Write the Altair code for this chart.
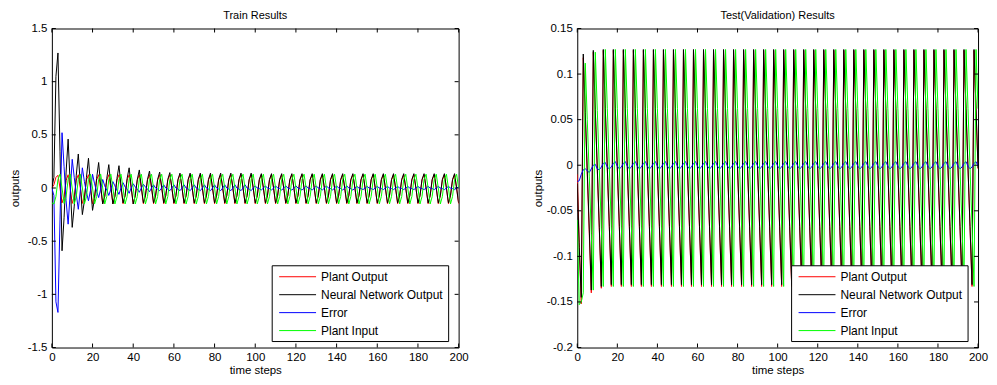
import altair as alt
import pandas as pd

STEPS = list(range(201))
SERIES = ["Plant Output", "Neural Network Output", "Error", "Plant Input"]
COLORS = ["#ff0000", "#000000", "#0000ff", "#00ff00"]
X_TICKS = [0, 20, 40, 60, 80, 100, 120, 140, 160, 180, 200]
TRAIN_Y_TICKS = [-1.5, -1, -0.5, 0, 0.5, 1, 1.5]
TEST_Y_TICKS = [-0.2, -0.15, -0.1, -0.05, 0, 0.05, 0.1, 0.15]

# ---------------- Train results (steps 0..200) ----------------
TRAIN_PLANT_OUTPUT = [
    0.00, 0.03, 0.10, 0.12, 0.00, -0.14, -0.08, 0.07, 0.125, 0.00,
    -0.145, -0.075, 0.075, 0.125, 0.00, -0.145, -0.075, 0.075, 0.125, 0.00,
    -0.148, -0.075, 0.075, 0.125, 0.00, -0.148, -0.075, 0.075, 0.125, 0.00,
    -0.148, -0.075, 0.075, 0.125, 0.00, -0.148, -0.075, 0.075, 0.125, 0.00,
    -0.148, -0.075, 0.075, 0.125, 0.00, -0.148, -0.075, 0.075, 0.125, 0.00,
    -0.148, -0.075, 0.075, 0.125, 0.00, -0.148, -0.075, 0.075, 0.125, 0.00,
    -0.148, -0.075, 0.075, 0.125, 0.00, -0.148, -0.075, 0.075, 0.125, 0.00,
    -0.148, -0.075, 0.075, 0.125, 0.00, -0.148, -0.075, 0.075, 0.125, 0.00,
    -0.148, -0.075, 0.075, 0.125, 0.00, -0.148, -0.075, 0.075, 0.125, 0.00,
    -0.148, -0.075, 0.075, 0.125, 0.00, -0.148, -0.075, 0.075, 0.125, 0.00,
    -0.148, -0.075, 0.075, 0.125, 0.00, -0.148, -0.075, 0.075, 0.125, 0.00,
    -0.148, -0.075, 0.075, 0.125, 0.00, -0.148, -0.075, 0.075, 0.125, 0.00,
    -0.148, -0.075, 0.075, 0.125, 0.00, -0.148, -0.075, 0.075, 0.125, 0.00,
    -0.148, -0.075, 0.075, 0.125, 0.00, -0.148, -0.075, 0.075, 0.125, 0.00,
    -0.148, -0.075, 0.075, 0.125, 0.00, -0.148, -0.075, 0.075, 0.125, 0.00,
    -0.148, -0.075, 0.075, 0.125, 0.00, -0.148, -0.075, 0.075, 0.125, 0.00,
    -0.148, -0.075, 0.075, 0.125, 0.00, -0.148, -0.075, 0.075, 0.125, 0.00,
    -0.148, -0.075, 0.075, 0.125, 0.00, -0.148, -0.075, 0.075, 0.125, 0.00,
    -0.148, -0.075, 0.075, 0.125, 0.00, -0.148, -0.075, 0.075, 0.125, 0.00,
    -0.148, -0.075, 0.075, 0.125, 0.00, -0.148, -0.075, 0.075, 0.125, 0.00,
    -0.148,
]

TRAIN_NN_OUTPUT = [
    0.00, 0.10, 1.05, 1.27, 0.34, -0.59, -0.28, 0.15, 0.46, 0.04,
    -0.37, -0.17, 0.12, 0.32, 0.03, -0.25, -0.12, 0.10, 0.28, 0.02,
    -0.21, -0.10, 0.09, 0.24, 0.02, -0.15, -0.08, 0.09, 0.22, 0.02,
    -0.15, -0.08, 0.09, 0.21, 0.02, -0.14, -0.07, 0.09, 0.19, 0.01,
    -0.15, -0.07, 0.08, 0.17, 0.01, -0.14, -0.07, 0.08, 0.16, 0.01,
    -0.14, -0.07, 0.08, 0.15, 0.01, -0.14, -0.07, 0.08, 0.145, 0.00,
    -0.14, -0.07, 0.08, 0.14, 0.00, -0.14, -0.07, 0.08, 0.14, 0.00,
    -0.14, -0.07, 0.08, 0.14, 0.00, -0.14, -0.07, 0.08, 0.14, 0.00,
    -0.14, -0.07, 0.08, 0.14, 0.00, -0.14, -0.07, 0.08, 0.14, 0.00,
    -0.14, -0.07, 0.08, 0.14, 0.00, -0.14, -0.07, 0.08, 0.14, 0.00,
    -0.14, -0.07, 0.08, 0.135, 0.00, -0.14, -0.07, 0.08, 0.135, 0.00,
    -0.14, -0.07, 0.08, 0.135, 0.00, -0.14, -0.07, 0.08, 0.135, 0.00,
    -0.14, -0.07, 0.08, 0.135, 0.00, -0.14, -0.07, 0.08, 0.135, 0.00,
    -0.14, -0.07, 0.08, 0.135, 0.00, -0.14, -0.07, 0.08, 0.135, 0.00,
    -0.14, -0.07, 0.08, 0.135, 0.00, -0.14, -0.07, 0.08, 0.135, 0.00,
    -0.14, -0.07, 0.08, 0.135, 0.00, -0.14, -0.07, 0.08, 0.135, 0.00,
    -0.14, -0.07, 0.08, 0.135, 0.00, -0.14, -0.07, 0.08, 0.135, 0.00,
    -0.14, -0.07, 0.08, 0.135, 0.00, -0.14, -0.07, 0.08, 0.135, 0.00,
    -0.14, -0.07, 0.08, 0.135, 0.00, -0.14, -0.07, 0.08, 0.135, 0.00,
    -0.14, -0.07, 0.08, 0.135, 0.00, -0.14, -0.07, 0.08, 0.135, 0.00,
    -0.14,
]

TRAIN_ERROR = [
    0.00, -0.07, -1.07, -1.17, -0.30, 0.52, 0.20, -0.12, -0.34, -0.05,
    0.27, 0.10, -0.06, -0.20, -0.02, 0.19, 0.06, -0.04, -0.12, -0.02,
    0.13, 0.04, -0.03, -0.09, -0.01, 0.08, 0.02, -0.02, -0.07, -0.01,
    0.06, 0.02, -0.02, -0.06, 0.00, 0.05, 0.01, -0.01, -0.05, 0.00,
    0.04, 0.01, -0.01, -0.04, 0.00, 0.035, 0.01, -0.01, -0.035, 0.00,
    0.03, 0.00, -0.01, -0.025, 0.00, 0.03, 0.00, -0.01, -0.025, 0.00,
    0.03, 0.00, -0.01, -0.025, 0.00, 0.03, 0.00, -0.01, -0.025, 0.00,
    0.03, 0.00, -0.01, -0.025, 0.00, 0.03, 0.00, -0.01, -0.025, 0.00,
    0.03, 0.00, -0.01, -0.025, 0.00, 0.03, 0.00, -0.01, -0.025, 0.00,
    0.03, 0.00, -0.01, -0.025, 0.00, 0.03, 0.00, -0.01, -0.025, 0.00,
    0.02, 0.00, -0.005, -0.02, 0.00, 0.02, 0.00, -0.005, -0.02, 0.00,
    0.02, 0.00, -0.005, -0.02, 0.00, 0.02, 0.00, -0.005, -0.02, 0.00,
    0.02, 0.00, -0.005, -0.02, 0.00, 0.02, 0.00, -0.005, -0.02, 0.00,
    0.02, 0.00, -0.005, -0.02, 0.00, 0.02, 0.00, -0.005, -0.02, 0.00,
    0.02, 0.00, -0.005, -0.02, 0.00, 0.02, 0.00, -0.005, -0.02, 0.00,
    0.015, 0.00, -0.005, -0.015, 0.00, 0.015, 0.00, -0.005, -0.015, 0.00,
    0.015, 0.00, -0.005, -0.015, 0.00, 0.015, 0.00, -0.005, -0.015, 0.00,
    0.015, 0.00, -0.005, -0.015, 0.00, 0.015, 0.00, -0.005, -0.015, 0.00,
    0.015, 0.00, -0.005, -0.015, 0.00, 0.015, 0.00, -0.005, -0.015, 0.00,
    0.015, 0.00, -0.005, -0.015, 0.00, 0.015, 0.00, -0.005, -0.015, 0.00,
    0.01,
]

TRAIN_PLANT_INPUT = [
    -0.14, -0.15, -0.08, 0.08, 0.13, 0.00, -0.145, -0.08, 0.08, 0.13,
    0.00, -0.15, -0.08, 0.08, 0.13, 0.00, -0.15, -0.08, 0.08, 0.13,
    0.00, -0.15, -0.08, 0.08, 0.13, 0.00, -0.15, -0.08, 0.08, 0.13,
    0.00, -0.15, -0.08, 0.08, 0.13, 0.00, -0.15, -0.08, 0.08, 0.13,
    0.00, -0.15, -0.08, 0.08, 0.13, 0.00, -0.15, -0.08, 0.08, 0.13,
    0.00, -0.15, -0.08, 0.08, 0.13, 0.00, -0.15, -0.08, 0.08, 0.13,
    0.00, -0.15, -0.08, 0.08, 0.13, 0.00, -0.15, -0.08, 0.08, 0.13,
    0.00, -0.15, -0.08, 0.08, 0.13, 0.00, -0.15, -0.08, 0.08, 0.13,
    0.00, -0.15, -0.08, 0.08, 0.13, 0.00, -0.15, -0.08, 0.08, 0.13,
    0.00, -0.15, -0.08, 0.08, 0.13, 0.00, -0.15, -0.08, 0.08, 0.13,
    0.00, -0.15, -0.08, 0.08, 0.13, 0.00, -0.15, -0.08, 0.08, 0.13,
    0.00, -0.15, -0.08, 0.08, 0.13, 0.00, -0.15, -0.08, 0.08, 0.13,
    0.00, -0.15, -0.08, 0.08, 0.13, 0.00, -0.15, -0.08, 0.08, 0.13,
    0.00, -0.15, -0.08, 0.08, 0.13, 0.00, -0.15, -0.08, 0.08, 0.13,
    0.00, -0.15, -0.08, 0.08, 0.13, 0.00, -0.15, -0.08, 0.08, 0.13,
    0.00, -0.15, -0.08, 0.08, 0.13, 0.00, -0.15, -0.08, 0.08, 0.13,
    0.00, -0.15, -0.08, 0.08, 0.13, 0.00, -0.15, -0.08, 0.08, 0.13,
    0.00, -0.15, -0.08, 0.08, 0.13, 0.00, -0.15, -0.08, 0.08, 0.13,
    0.00, -0.15, -0.08, 0.08, 0.13, 0.00, -0.15, -0.08, 0.08, 0.13,
    0.00, -0.15, -0.08, 0.08, 0.13, 0.00, -0.15, -0.08, 0.08, 0.13,
    0.00,
]

# ---------------- Test (validation) results (steps 0..200) ----------------
TEST_PLANT_OUTPUT = [
    -0.01, -0.085, -0.152, 0.118, 0.056, -0.01, -0.075, -0.14, 0.124, 0.06,
    -0.005, -0.07, -0.135, 0.126, 0.061, -0.004, -0.068, -0.133, 0.126, 0.061,
    -0.004, -0.068, -0.133, 0.126, 0.061, -0.004, -0.068, -0.133, 0.126, 0.061,
    -0.004, -0.068, -0.133, 0.126, 0.061, -0.004, -0.068, -0.133, 0.126, 0.061,
    -0.004, -0.068, -0.133, 0.126, 0.061, -0.004, -0.068, -0.133, 0.126, 0.061,
    -0.004, -0.068, -0.133, 0.126, 0.061, -0.004, -0.068, -0.133, 0.126, 0.061,
    -0.004, -0.068, -0.133, 0.126, 0.061, -0.004, -0.068, -0.133, 0.126, 0.061,
    -0.004, -0.068, -0.133, 0.126, 0.061, -0.004, -0.068, -0.133, 0.126, 0.061,
    -0.004, -0.068, -0.133, 0.126, 0.061, -0.004, -0.068, -0.133, 0.126, 0.061,
    -0.004, -0.068, -0.133, 0.126, 0.061, -0.004, -0.068, -0.133, 0.126, 0.061,
    -0.004, -0.068, -0.133, 0.126, 0.061, -0.004, -0.068, -0.133, 0.126, 0.061,
    -0.004, -0.068, -0.133, 0.126, 0.061, -0.004, -0.068, -0.133, 0.126, 0.061,
    -0.004, -0.068, -0.133, 0.126, 0.061, -0.004, -0.068, -0.133, 0.126, 0.061,
    -0.004, -0.068, -0.133, 0.126, 0.061, -0.004, -0.068, -0.133, 0.126, 0.061,
    -0.004, -0.068, -0.133, 0.126, 0.061, -0.004, -0.068, -0.133, 0.126, 0.061,
    -0.004, -0.068, -0.133, 0.126, 0.061, -0.004, -0.068, -0.133, 0.126, 0.061,
    -0.004, -0.068, -0.133, 0.126, 0.061, -0.004, -0.068, -0.133, 0.126, 0.061,
    -0.004, -0.068, -0.133, 0.126, 0.061, -0.004, -0.068, -0.133, 0.126, 0.061,
    -0.004, -0.068, -0.133, 0.126, 0.061, -0.004, -0.068, -0.133, 0.126, 0.061,
    -0.004, -0.068, -0.133, 0.126, 0.061, -0.004, -0.068, -0.133, 0.126, 0.061,
    -0.004,
]

TEST_NN_OUTPUT = [
    -0.02, -0.09, -0.145, 0.122, 0.058, -0.006, -0.07, -0.137, 0.126, 0.061,
    -0.004, -0.068, -0.133, 0.127, 0.062, -0.003, -0.067, -0.131, 0.127, 0.062,
    -0.003, -0.067, -0.131, 0.127, 0.062, -0.003, -0.067, -0.131, 0.127, 0.062,
    -0.003, -0.067, -0.131, 0.127, 0.062, -0.003, -0.067, -0.131, 0.127, 0.062,
    -0.003, -0.067, -0.131, 0.127, 0.062, -0.003, -0.067, -0.131, 0.127, 0.062,
    -0.003, -0.067, -0.131, 0.127, 0.062, -0.003, -0.067, -0.131, 0.127, 0.062,
    -0.003, -0.067, -0.131, 0.127, 0.062, -0.003, -0.067, -0.131, 0.127, 0.062,
    -0.003, -0.067, -0.131, 0.127, 0.062, -0.003, -0.067, -0.131, 0.127, 0.062,
    -0.003, -0.067, -0.131, 0.127, 0.062, -0.003, -0.067, -0.131, 0.127, 0.062,
    -0.003, -0.067, -0.131, 0.127, 0.062, -0.003, -0.067, -0.131, 0.127, 0.062,
    -0.003, -0.067, -0.131, 0.127, 0.062, -0.003, -0.067, -0.131, 0.127, 0.062,
    -0.003, -0.067, -0.131, 0.127, 0.062, -0.003, -0.067, -0.131, 0.127, 0.062,
    -0.003, -0.067, -0.131, 0.127, 0.062, -0.003, -0.067, -0.131, 0.127, 0.062,
    -0.003, -0.067, -0.131, 0.127, 0.062, -0.003, -0.067, -0.131, 0.127, 0.062,
    -0.003, -0.067, -0.131, 0.127, 0.062, -0.003, -0.067, -0.131, 0.127, 0.062,
    -0.003, -0.067, -0.131, 0.127, 0.062, -0.003, -0.067, -0.131, 0.127, 0.062,
    -0.003, -0.067, -0.131, 0.127, 0.062, -0.003, -0.067, -0.131, 0.127, 0.062,
    -0.003, -0.067, -0.131, 0.127, 0.062, -0.003, -0.067, -0.131, 0.127, 0.062,
    -0.003, -0.067, -0.131, 0.127, 0.062, -0.003, -0.067, -0.131, 0.127, 0.062,
    -0.003, -0.067, -0.131, 0.127, 0.062, -0.003, -0.067, -0.131, 0.127, 0.062,
    -0.003,
]

TEST_ERROR = [
    -0.018, -0.017, -0.010, -0.005, -0.004, -0.006, -0.008, -0.004, 0.000, 0.001,
    -0.004, -0.005, -0.002, 0.002, 0.003, -0.002, -0.004, -0.002, 0.002, 0.004,
    -0.001, -0.004, -0.002, 0.002, 0.004, -0.001, -0.004, -0.002, 0.002, 0.004,
    -0.001, -0.004, -0.002, 0.002, 0.004, -0.001, -0.004, -0.002, 0.002, 0.004,
    -0.001, -0.004, -0.002, 0.002, 0.004, -0.001, -0.004, -0.002, 0.002, 0.004,
    -0.001, -0.004, -0.002, 0.002, 0.004, -0.001, -0.004, -0.002, 0.002, 0.004,
    -0.001, -0.004, -0.002, 0.002, 0.004, -0.001, -0.004, -0.002, 0.002, 0.004,
    -0.001, -0.004, -0.002, 0.002, 0.004, -0.001, -0.004, -0.002, 0.002, 0.004,
    -0.001, -0.004, -0.002, 0.002, 0.004, -0.001, -0.004, -0.002, 0.002, 0.004,
    -0.001, -0.004, -0.002, 0.002, 0.004, -0.001, -0.004, -0.002, 0.002, 0.004,
    -0.001, -0.004, -0.002, 0.002, 0.004, -0.001, -0.004, -0.002, 0.002, 0.004,
    -0.001, -0.004, -0.002, 0.002, 0.004, -0.001, -0.004, -0.002, 0.002, 0.004,
    -0.001, -0.004, -0.002, 0.002, 0.004, -0.001, -0.004, -0.002, 0.002, 0.004,
    -0.001, -0.004, -0.002, 0.002, 0.004, -0.001, -0.004, -0.002, 0.002, 0.004,
    -0.001, -0.004, -0.002, 0.002, 0.004, -0.001, -0.004, -0.002, 0.002, 0.004,
    -0.001, -0.004, -0.002, 0.002, 0.004, -0.001, -0.004, -0.002, 0.002, 0.004,
    -0.001, -0.004, -0.002, 0.002, 0.004, -0.001, -0.004, -0.002, 0.002, 0.004,
    -0.001, -0.004, -0.002, 0.002, 0.004, -0.001, -0.004, -0.002, 0.002, 0.004,
    -0.001, -0.004, -0.002, 0.002, 0.004, -0.001, -0.004, -0.002, 0.002, 0.004,
    -0.001, -0.004, -0.002, 0.002, 0.004, -0.001, -0.004, -0.002, 0.002, 0.004,
    -0.001,
]

TEST_PLANT_INPUT = [
    -0.06, -0.153, -0.15, -0.14, 0.112, 0.05, -0.012, -0.075, -0.137, 0.124,
    0.06, -0.004, -0.068, -0.133, 0.127, 0.062, -0.003, -0.067, -0.133, 0.127,
    0.062, -0.003, -0.067, -0.133, 0.127, 0.062, -0.003, -0.067, -0.133, 0.127,
    0.062, -0.003, -0.067, -0.133, 0.127, 0.062, -0.003, -0.067, -0.133, 0.127,
    0.062, -0.003, -0.067, -0.133, 0.127, 0.062, -0.003, -0.067, -0.133, 0.127,
    0.062, -0.003, -0.067, -0.133, 0.127, 0.062, -0.003, -0.067, -0.133, 0.127,
    0.062, -0.003, -0.067, -0.133, 0.127, 0.062, -0.003, -0.067, -0.133, 0.127,
    0.062, -0.003, -0.067, -0.133, 0.127, 0.062, -0.003, -0.067, -0.133, 0.127,
    0.062, -0.003, -0.067, -0.133, 0.127, 0.062, -0.003, -0.067, -0.133, 0.127,
    0.062, -0.003, -0.067, -0.133, 0.127, 0.062, -0.003, -0.067, -0.133, 0.127,
    0.062, -0.003, -0.067, -0.133, 0.127, 0.062, -0.003, -0.067, -0.133, 0.127,
    0.062, -0.003, -0.067, -0.133, 0.127, 0.062, -0.003, -0.067, -0.133, 0.127,
    0.062, -0.003, -0.067, -0.133, 0.127, 0.062, -0.003, -0.067, -0.133, 0.127,
    0.062, -0.003, -0.067, -0.133, 0.127, 0.062, -0.003, -0.067, -0.133, 0.127,
    0.062, -0.003, -0.067, -0.133, 0.127, 0.062, -0.003, -0.067, -0.133, 0.127,
    0.062, -0.003, -0.067, -0.133, 0.127, 0.062, -0.003, -0.067, -0.133, 0.127,
    0.062, -0.003, -0.067, -0.133, 0.127, 0.062, -0.003, -0.067, -0.133, 0.127,
    0.062, -0.003, -0.067, -0.133, 0.127, 0.062, -0.003, -0.067, -0.133, 0.127,
    0.062, -0.003, -0.067, -0.133, 0.127, 0.062, -0.003, -0.067, -0.133, 0.127,
    0.062, -0.003, -0.067, -0.133, 0.127, 0.062, -0.003, -0.067, -0.133, 0.127,
    0.062,
]

FONT = "Liberation Sans"
H = 320
ONE = pd.DataFrame({"k": [0]})


def panel(title, lists, y_ticks, y_domain, y_title_pad, W):
    xs = alt.Scale(domain=[0, 200], nice=False, zero=False)
    ys = alt.Scale(domain=y_domain, nice=False, zero=False)
    common = dict(grid=False, ticks=False, tickSize=0, domain=False,
                  labelFont=FONT, labelFontSize=11.5, labelColor="black",
                  titleFont=FONT, titleFontSize=11.5, titleFontWeight="normal",
                  titleColor="black")
    x_axis = alt.Axis(values=X_TICKS, title="time steps", labelPadding=4,
                      titlePadding=2, labelFlush=False, **common)
    y_axis = alt.Axis(values=y_ticks, title="outputs", labelPadding=5,
                      titlePadding=y_title_pad, labelExpr="'' + datum.value",
                      **common)
    x_enc = alt.X("step:Q", scale=xs, axis=x_axis)
    y_enc = alt.Y("value:Q", scale=ys, axis=y_axis)

    layers = []
    for vals, color in zip(lists, COLORS):
        df = pd.DataFrame({"step": STEPS[:len(vals)], "value": vals[:len(STEPS)]})
        layers.append(
            alt.Chart(df).mark_line(color=color, strokeWidth=1, clip=True)
            .encode(x=x_enc, y=y_enc)
        )

    xt = pd.DataFrame({"step": X_TICKS})
    yt = pd.DataFrame({"value": y_ticks})
    layers.append(alt.Chart(xt).mark_rule(color="black", strokeWidth=1)
                  .encode(x=x_enc, y=alt.value(H), y2=alt.value(H - 4)))
    layers.append(alt.Chart(xt).mark_rule(color="black", strokeWidth=1)
                  .encode(x=x_enc, y=alt.value(0), y2=alt.value(4)))
    layers.append(alt.Chart(yt).mark_rule(color="black", strokeWidth=1)
                  .encode(y=y_enc, x=alt.value(0), x2=alt.value(4)))
    layers.append(alt.Chart(yt).mark_rule(color="black", strokeWidth=1)
                  .encode(y=y_enc, x=alt.value(W - 4), x2=alt.value(W)))

    # legend box (anchored to the lower right corner of the plot)
    lx0 = W - 187
    layers.append(alt.Chart(ONE).mark_rect(fill="white", stroke="black", strokeWidth=1)
                  .encode(x=alt.value(lx0), x2=alt.value(W - 10),
                          y=alt.value(238), y2=alt.value(314)))
    for i, (name, color) in enumerate(zip(SERIES, COLORS)):
        yy = 249 + 18 * i
        layers.append(alt.Chart(ONE).mark_rule(color=color, strokeWidth=1)
                      .encode(x=alt.value(lx0 + 7), x2=alt.value(lx0 + 44), y=alt.value(yy)))
        layers.append(alt.Chart(ONE).mark_text(text=name, align="left", baseline="middle",
                                               font=FONT, fontSize=12, color="black")
                      .encode(x=alt.value(lx0 + 49), y=alt.value(yy)))

    return alt.layer(*layers).properties(
        width=W, height=H,
        title=alt.TitleParams(text=title, font=FONT, fontSize=11, fontWeight="normal",
                              color="black", offset=2, frame="group", anchor="middle"),
    )


left = panel("Train Results",
             [TRAIN_PLANT_OUTPUT, TRAIN_NN_OUTPUT, TRAIN_ERROR, TRAIN_PLANT_INPUT],
             TRAIN_Y_TICKS, [-1.5, 1.5], 7, 408)
right = panel("Test(Validation) Results",
              [TEST_PLANT_OUTPUT, TEST_NN_OUTPUT, TEST_ERROR, TEST_PLANT_INPUT],
              TEST_Y_TICKS, [-0.2, 0.15], 3, 402)

chart = alt.hconcat(left, right, spacing=62).properties(
    padding=0, background="white"
).configure_view(stroke="black", strokeWidth=1)

chart.save("out.html", embed_options={"renderer": "svg", "actions": False})
